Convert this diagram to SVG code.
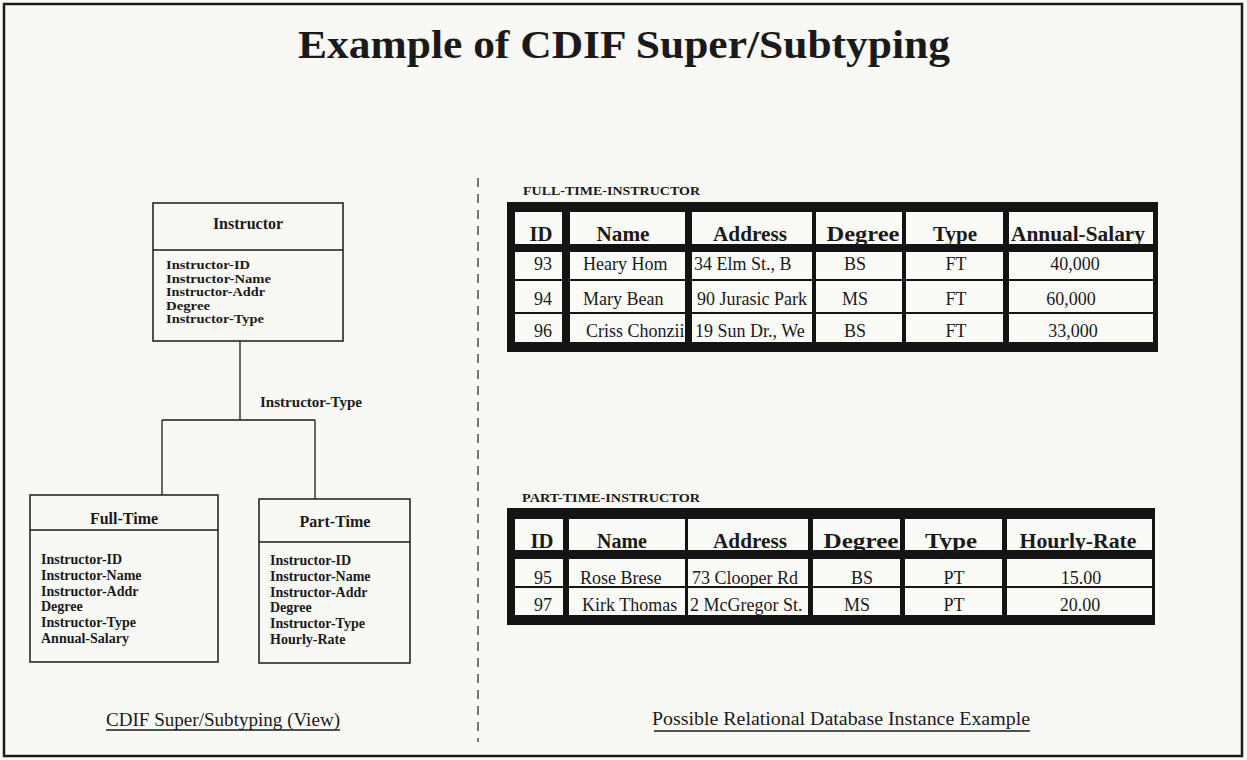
<svg xmlns="http://www.w3.org/2000/svg" width="1247" height="760" viewBox="0 0 1247 760">
<defs>
<style>
.bg{fill:#f8f8f4}
.frame{fill:none;stroke:#1a1a1a;stroke-width:2.5}
.box{fill:none;stroke:#1a1a1a;stroke-width:1.5}
.ln{fill:none;stroke:#1a1a1a;stroke-width:1.3}
.dash{fill:none;stroke:#333;stroke-width:1.3;stroke-dasharray:9 7}
.title{font-family:"Liberation Serif","DejaVu Serif",serif;font-weight:bold;font-size:40px;fill:#1a1a1a}
.bt{font-family:"Liberation Serif","DejaVu Serif",serif;font-weight:bold;font-size:16px;fill:#1a1a1a}
.at{font-family:"Liberation Serif","DejaVu Serif",serif;font-weight:bold;font-size:14px;fill:#1a1a1a}
.as{font-family:"Liberation Serif","DejaVu Serif",serif;font-weight:bold;font-size:11.5px;fill:#1a1a1a}
.tl{font-family:"Liberation Serif","DejaVu Serif",serif;font-weight:bold;font-size:13px;fill:#1a1a1a}
.th{font-family:"Liberation Serif","DejaVu Serif",serif;font-weight:bold;font-size:20px;fill:#1a1a1a;text-anchor:middle}
.td{font-family:"Liberation Serif","DejaVu Serif",serif;font-size:18px;fill:#1a1a1a}
.tc{text-anchor:middle}
.cap{font-family:"Liberation Serif","DejaVu Serif",serif;font-size:19.5px;fill:#1a1a1a}
.tbl{fill:#141414}
.cell{fill:#fafaf7}
</style>
<clipPath id="ftName"><rect x="570" y="250" width="115" height="95"/></clipPath>
<clipPath id="ftAddr"><rect x="692" y="250" width="120" height="95"/></clipPath>
<clipPath id="ptName"><rect x="569" y="555" width="116" height="62"/></clipPath>
<clipPath id="ptAddr"><rect x="688" y="555" width="120" height="62"/></clipPath>
</defs>
<rect class="bg" x="0" y="0" width="1247" height="760"/>
<rect class="frame" x="4" y="4" width="1238" height="752"/>

<g id="title"><text class="title" x="298" y="58" textLength="652" lengthAdjust="spacingAndGlyphs">Example of CDIF Super/Subtyping</text></g>

<g id="divider"><line class="dash" x1="478" y1="178" x2="478" y2="742"/></g>

<g id="connectors">
<line class="ln" x1="240" y1="341" x2="240" y2="420"/>
<line class="ln" x1="162" y1="420" x2="315" y2="420"/>
<line class="ln" x1="162" y1="420" x2="162" y2="495"/>
<line class="ln" x1="315" y1="420" x2="315" y2="499"/>
<text class="at" x="260" y="407" textLength="102" lengthAdjust="spacingAndGlyphs">Instructor-Type</text>
</g>

<g id="instructor">
<rect class="box" x="153" y="203" width="190" height="138"/>
<line class="box" x1="153" y1="250" x2="343" y2="250"/>
<text class="bt tc" x="248" y="229">Instructor</text>
<text class="as" x="166" y="269" textLength="84" lengthAdjust="spacingAndGlyphs">Instructor-ID</text>
<text class="as" x="166" y="282.5" textLength="105" lengthAdjust="spacingAndGlyphs">Instructor-Name</text>
<text class="as" x="166" y="296" textLength="99" lengthAdjust="spacingAndGlyphs">Instructor-Addr</text>
<text class="as" x="166" y="309.5" textLength="44" lengthAdjust="spacingAndGlyphs">Degree</text>
<text class="as" x="166" y="323" textLength="98" lengthAdjust="spacingAndGlyphs">Instructor-Type</text>
</g>

<g id="full-time">
<rect class="box" x="30" y="495" width="188" height="167"/>
<line class="box" x1="30" y1="530" x2="218" y2="530"/>
<text class="bt tc" x="124" y="524">Full-Time</text>
<text class="at" x="41" y="564">Instructor-ID</text>
<text class="at" x="41" y="580">Instructor-Name</text>
<text class="at" x="41" y="596">Instructor-Addr</text>
<text class="at" x="41" y="611">Degree</text>
<text class="at" x="41" y="627">Instructor-Type</text>
<text class="at" x="41" y="643">Annual-Salary</text>
</g>

<g id="part-time">
<rect class="box" x="259" y="499" width="151" height="164"/>
<line class="box" x1="259" y1="542" x2="410" y2="542"/>
<text class="bt tc" x="335" y="527">Part-Time</text>
<text class="at" x="270" y="565">Instructor-ID</text>
<text class="at" x="270" y="581">Instructor-Name</text>
<text class="at" x="270" y="597">Instructor-Addr</text>
<text class="at" x="270" y="612">Degree</text>
<text class="at" x="270" y="628">Instructor-Type</text>
<text class="at" x="270" y="644">Hourly-Rate</text>
</g>

<g id="ft-table">
<text class="tl" x="523" y="195" textLength="177" lengthAdjust="spacingAndGlyphs">FULL-TIME-INSTRUCTOR</text>
<rect class="tbl" x="507" y="202" width="651" height="150"/>
<g class="cell">
<rect x="515" y="212" width="47" height="32"/><rect x="570" y="212" width="115" height="32"/><rect x="692" y="212" width="120" height="32"/><rect x="816" y="212" width="86" height="32"/><rect x="906" y="212" width="97" height="32"/><rect x="1009" y="212" width="144" height="32"/>
<rect x="515" y="252" width="47" height="27"/><rect x="570" y="252" width="115" height="27"/><rect x="692" y="252" width="120" height="27"/><rect x="816" y="252" width="86" height="27"/><rect x="906" y="252" width="97" height="27"/><rect x="1009" y="252" width="144" height="27"/>
<rect x="515" y="281" width="47" height="31"/><rect x="570" y="281" width="115" height="31"/><rect x="692" y="281" width="120" height="31"/><rect x="816" y="281" width="86" height="31"/><rect x="906" y="281" width="97" height="31"/><rect x="1009" y="281" width="144" height="31"/>
<rect x="515" y="314" width="47" height="28"/><rect x="570" y="314" width="115" height="28"/><rect x="692" y="314" width="120" height="28"/><rect x="816" y="314" width="86" height="28"/><rect x="906" y="314" width="97" height="28"/><rect x="1009" y="314" width="144" height="28"/>
</g>
<text class="th" x="541" y="241" textLength="23" lengthAdjust="spacingAndGlyphs">ID</text>
<text class="th" x="623" y="241" textLength="53" lengthAdjust="spacingAndGlyphs">Name</text>
<text class="th" x="750" y="241" textLength="74" lengthAdjust="spacingAndGlyphs">Address</text>
<text class="th" x="863" y="241" textLength="73" lengthAdjust="spacingAndGlyphs">Degree</text>
<text class="th" x="955" y="241" textLength="44" lengthAdjust="spacingAndGlyphs">Type</text>
<text class="th" x="1078" y="241" textLength="134" lengthAdjust="spacingAndGlyphs">Annual-Salary</text>
<text class="td tc" x="543" y="270">93</text>
<text class="td tc" x="543" y="305">94</text>
<text class="td tc" x="543" y="337">96</text>
<g clip-path="url(#ftName)">
<text class="td" x="583" y="270">Heary Hom</text>
<text class="td" x="583" y="305">Mary Bean</text>
<text class="td" x="586" y="337">Criss Chonzii</text>
</g>
<g clip-path="url(#ftAddr)">
<text class="td" x="694" y="270">34 Elm St., B</text>
<text class="td" x="697" y="305">90 Jurasic Park</text>
<text class="td" x="695" y="337">19 Sun Dr., We</text>
</g>
<text class="td tc" x="855" y="270">BS</text>
<text class="td tc" x="855" y="305">MS</text>
<text class="td tc" x="855" y="337">BS</text>
<text class="td tc" x="956" y="270">FT</text>
<text class="td tc" x="956" y="305">FT</text>
<text class="td tc" x="956" y="337">FT</text>
<text class="td tc" x="1075" y="270">40,000</text>
<text class="td tc" x="1071" y="305">60,000</text>
<text class="td tc" x="1073" y="337">33,000</text>
</g>

<g id="pt-table">
<text class="tl" x="522" y="502" textLength="178" lengthAdjust="spacingAndGlyphs">PART-TIME-INSTRUCTOR</text>
<rect class="tbl" x="507" y="508" width="648" height="117"/>
<g class="cell">
<rect x="515" y="519" width="48" height="31"/><rect x="569" y="519" width="116" height="31"/><rect x="688" y="519" width="120" height="31"/><rect x="813" y="519" width="87" height="31"/><rect x="905" y="519" width="97" height="31"/><rect x="1007" y="519" width="145" height="31"/>
<rect x="515" y="559" width="48" height="27"/><rect x="569" y="559" width="116" height="27"/><rect x="688" y="559" width="120" height="27"/><rect x="813" y="559" width="87" height="27"/><rect x="905" y="559" width="97" height="27"/><rect x="1007" y="559" width="145" height="27"/>
<rect x="515" y="588" width="48" height="27"/><rect x="569" y="588" width="116" height="27"/><rect x="688" y="588" width="120" height="27"/><rect x="813" y="588" width="87" height="27"/><rect x="905" y="588" width="97" height="27"/><rect x="1007" y="588" width="145" height="27"/>
</g>
<text class="th" x="542" y="548" textLength="23" lengthAdjust="spacingAndGlyphs">ID</text>
<text class="th" x="622" y="548" textLength="50" lengthAdjust="spacingAndGlyphs">Name</text>
<text class="th" x="750" y="548" textLength="74" lengthAdjust="spacingAndGlyphs">Address</text>
<text class="th" x="861" y="548" textLength="75" lengthAdjust="spacingAndGlyphs">Degree</text>
<text class="th" x="951" y="548" textLength="52" lengthAdjust="spacingAndGlyphs">Type</text>
<text class="th" x="1078" y="548" textLength="117" lengthAdjust="spacingAndGlyphs">Hourly-Rate</text>
<text class="td tc" x="543" y="584">95</text>
<text class="td tc" x="543" y="611">97</text>
<g clip-path="url(#ptName)">
<text class="td" x="580" y="584">Rose Brese</text>
<text class="td" x="582" y="611">Kirk Thomas</text>
</g>
<g clip-path="url(#ptAddr)">
<text class="td" x="692" y="584">73 Clooper Rd</text>
<text class="td" x="690" y="611">2 McGregor St.</text>
</g>
<text class="td tc" x="862" y="584">BS</text>
<text class="td tc" x="857" y="611">MS</text>
<text class="td tc" x="954" y="584">PT</text>
<text class="td tc" x="954" y="611">PT</text>
<text class="td tc" x="1081" y="584">15.00</text>
<text class="td tc" x="1080" y="611">20.00</text>
</g>

<g id="captions">
<text class="cap" x="106" y="726" textLength="234" lengthAdjust="spacingAndGlyphs">CDIF Super/Subtyping (View)</text>
<line class="ln" x1="106" y1="730" x2="340" y2="730"/>
<text class="cap" x="652" y="725" textLength="378" lengthAdjust="spacingAndGlyphs">Possible Relational Database Instance Example</text>
<line class="ln" x1="654" y1="731" x2="1030" y2="731"/>
</g>
</svg>
